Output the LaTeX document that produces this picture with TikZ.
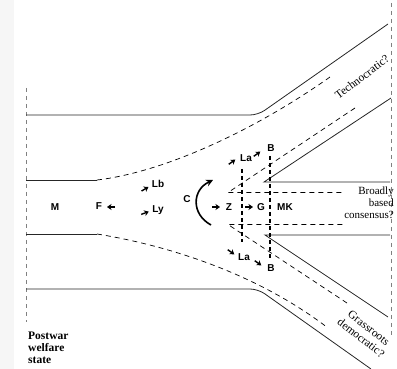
\documentclass[tikz,border=0pt]{standalone}
\usepackage{fontspec}
\setmainfont{Liberation Serif}
\setsansfont{Liberation Sans}
\usetikzlibrary{arrows.meta}
\tikzset{
  wall/.style={line width=0.8pt, black!85},
  lane/.style={line width=0.7pt, dash pattern=on 5pt off 4pt},
  gate/.style={line width=1.7pt, dash pattern=on 4pt off 3pt},
  border/.style={gray, line width=0.5pt, dash pattern=on 4pt off 4pt},
  actor/.style={font=\sffamily\bfseries\fontsize{10}{11}\selectfont, inner sep=0pt, anchor=base},
  path label/.style={font=\fontsize{11}{12}\selectfont, inner sep=0pt},
  pics/pointer/.style={
    code={
      \draw[line width=1.4pt, -{Stealth[length=4.5pt,width=6pt]}] (-4,0) -- (4,0);
    }
  },
}

\begin{document}
\begin{tikzpicture}[x=1pt, y=-1pt]
\useasboundingbox (0,0) rectangle (397,369);
\fill[gray!7] (0,0) rectangle (14,369);

% frame of the field
\draw[border] (26,88) -- (26,322);
\draw[border] (391,3) -- (391,335);

% outer walls
\draw[wall, rounded corners=8pt] (26,115) -- (258,115) -- (388,24);
\draw[wall, rounded corners=8pt] (26,289) -- (258,289) -- (371,369);

% inner walls and the widening lanes
\draw[wall] (26,180) -- (97,180);
\draw[wall] (26,234) -- (97,234);
\draw[lane] (97,180) .. controls (165,172) and (255,130) .. (330,77);
\draw[lane] (97,234) .. controls (165,245) and (255,272) .. (328,328);

% the three ways out
\draw[wall] (390,182) -- (264,182) -- (391,98);
\draw[wall] (390,235) -- (265,235) -- (388,317);
\draw[lane] (355,108) -- (228,192.5) -- (344,192.5);
\draw[lane] (347,303) -- (228,224.5) -- (344,224.5);

% gates
\draw[gate] (242,169) -- (242,242);
\draw[gate] (270,156) -- (270,260);

% actors
\node (m)   [actor] at (55,211)  {M};
\node (f)   [actor] at (99,210)  {F};
\node (lb)  [actor] at (158,187) {Lb};
\node (ly)  [actor] at (158,212) {Ly};
\node (c)   [actor] at (187,202) {C};
\node (z)   [actor] at (229,211) {Z};
\node (g)   [actor] at (261,211) {G};
\node (mk)  [actor] at (285,211) {MK};
\node (la1) [actor] at (246,161) {La};
\node (b1)  [actor] at (271,152) {B};
\node (la2) [actor] at (244,261) {La};
\node (b2)  [actor] at (271,271) {B};

\foreach \p/\a in {{111,207}/180, {145,189}/30, {145,213}/20, {216,207}/0, {249,207}/0,
                   {232,162}/35, {257,154}/35, {231,252}/-35, {258,263}/-35}
  \path (\p) pic[rotate=\a]{pointer};

\draw[line width=1.6pt, -{Stealth[length=7pt,width=7pt]}]
  (211,225) .. controls (191,214) and (192,190) .. (213,180);

% where it may lead
\node (techno) [path label, font=\fontsize{11.5}{12}\selectfont, rotate=37] at (362,77) {Technocratic?};
\node (consensus) [path label, align=right, anchor=east] at (394,203) {Broadly\\based\\consensus?};
\node (grass) [path label, font=\fontsize{11.5}{12.5}\selectfont, align=center, rotate=-38] at (365,333) {Grassroots\\democratic?};
\node (postwar) [path label, font=\bfseries\fontsize{11.5}{12}\selectfont, align=left, anchor=north west] at (28,332) {Postwar\\welfare\\state};

\end{tikzpicture}
\end{document}
